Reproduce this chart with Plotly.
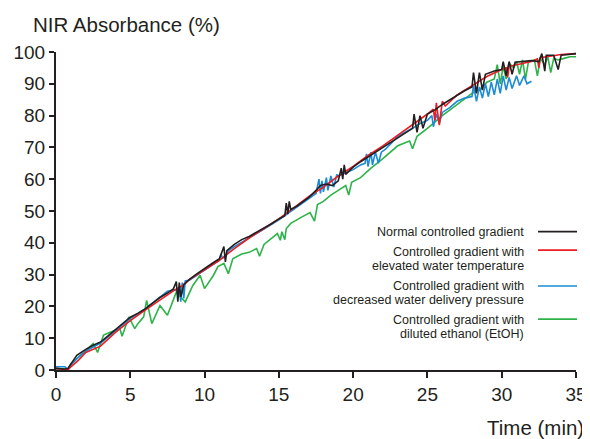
import plotly.graph_objects as go

# ---------------- data ----------------
normal_x = [0, 0.6, 0.8, 1.0, 1.4, 2.0, 2.5, 3.0, 3.5, 4.0, 4.5, 5.0, 5.5, 6.0, 6.5, 7.0, 7.5, 7.9,
            8.1, 8.2, 8.3, 8.4, 8.6, 9.0, 9.5, 10.0, 10.5, 11.0, 11.3, 11.4, 11.5, 12.0, 12.5, 13.0,
            13.5, 14.0, 14.5, 15.0, 15.4, 15.5, 15.6, 15.7, 15.8, 16.2, 16.5, 17.0, 17.5, 17.8, 18.2,
            18.6, 19.0, 19.2, 19.3, 19.4, 19.5, 20.0, 20.5, 21.0, 21.5, 22.0, 22.5, 23.0, 23.5, 24.0,
            24.1, 24.3, 24.5, 24.7, 25.0, 25.5, 26.0, 26.5, 27.0, 27.5, 28.0, 28.1, 28.3, 28.5, 28.7,
            28.9, 29.5, 30.0, 30.1, 30.3, 30.5, 30.7, 30.9, 31.5, 32.0, 32.5, 32.7, 32.9, 33.0, 33.5,
            33.8, 34.0, 34.5, 35.0]
normal_y = [0.5, 0.3, 0.5, 2.0, 4.6, 6.5, 7.8, 8.8, 10.8, 12.8, 14.6, 16.6, 17.8, 19.2, 21.0, 22.8, 24.2, 25.5,
            27.8, 21.5, 27.5, 23.0, 26.8, 28.6, 30.3, 32.0, 33.5, 35.0, 38.8, 34.0, 37.5, 39.5, 41.0, 42.0,
            43.3, 44.6, 46.0, 47.5, 48.5, 52.5, 49.0, 53.0, 50.5, 51.5, 52.5, 54.2, 56.5, 58.0, 58.5,
            58.0, 59.5, 63.5, 60.0, 64.5, 61.5, 63.8, 65.5, 67.0, 68.5, 70.0, 71.5, 73.0, 74.5, 76.0,
            80.5, 74.7, 80.0, 76.0, 80.5, 81.8, 83.5, 85.0, 86.5, 87.8, 89.0, 93.5, 87.0, 93.5, 88.0,
            93.0, 94.0, 94.5, 97.0, 92.5, 97.0, 93.0, 96.8, 97.0, 97.3, 97.0, 99.5, 94.0, 99.0, 99.0,
            94.5, 99.0, 99.3, 99.5]

temp_x = [0, 0.8, 1.0, 1.5, 2.0, 3.0, 4.0, 5.0, 6.0, 7.0, 8.0, 8.5, 9.0, 10.0, 11.0, 12.0, 13.0, 14.0,
          15.0, 16.0, 17.0, 18.0, 19.0, 20.0, 21.0, 22.0, 23.0, 24.0, 25.0, 25.4, 25.5, 25.6, 25.8,
          26.0, 26.2, 27.0, 28.0, 29.0, 30.0, 30.3, 30.4, 30.5, 31.0, 32.0, 32.4, 32.5, 32.6, 33.0,
          34.0, 35.0]
temp_y = [0.5, 0.0, 1.0, 3.0, 5.5, 7.5, 11.8, 15.5, 18.8, 22.0, 25.2, 26.5, 28.5, 31.5, 34.5, 38.2, 41.5, 44.5,
          47.5, 51.0, 54.5, 57.5, 61.0, 64.0, 67.5, 70.5, 73.8, 77.0, 80.5, 82.0, 78.5, 84.0, 77.0,
          84.5, 83.0, 86.5, 89.5, 92.3, 94.5, 95.0, 92.0, 95.5, 96.0, 97.0, 97.8, 95.0, 98.2, 98.5,
          99.2, 99.5]

pressure_x = [0, 0.6, 0.8, 1.0, 1.5, 2.0, 3.0, 4.0, 5.0, 6.0, 7.0, 7.5, 8.0, 8.3, 8.4, 8.5, 8.6, 8.7,
              9.0, 10.0, 11.0, 11.1, 11.2, 11.4, 11.6, 12.0, 13.0, 14.0, 15.0, 16.0, 17.0, 17.5, 17.7,
              17.8, 17.9, 18.0, 18.2, 18.3, 18.5, 18.7, 18.9, 19.0, 19.5, 20.0, 20.5, 20.8, 20.9, 21.0,
              21.2, 21.3, 21.5, 21.7, 21.9, 22.2, 22.6, 23.0, 23.5, 24.0, 24.5, 24.7, 25.0, 25.3, 25.4,
              25.6, 25.8, 26.0, 26.5, 27.0, 27.5, 28.0, 28.1, 28.3, 28.5, 28.7, 28.9, 29.1, 29.3, 29.5,
              29.7, 29.9, 30.1, 30.3, 30.5, 30.7, 31.0, 31.2, 31.5, 31.7, 32.0]
pressure_y = [1.0, 1.0, 0.3, 1.5, 4.0, 6.0, 8.5, 12.5, 16.2, 19.2, 23.0, 24.8, 25.2, 25.0, 21.5, 27.5, 22.5, 28.0,
              28.3, 31.5, 34.5, 36.5, 35.2, 35.5, 37.5, 38.8, 41.5, 44.3, 47.2, 50.5, 53.8, 55.5, 60.0,
              55.5, 59.5, 56.0, 60.5, 56.5, 61.0, 57.5, 61.5, 61.0, 62.0, 63.0, 64.5, 65.0, 68.0, 64.0,
              68.5, 64.5, 68.5, 65.0, 68.5, 69.5, 71.5, 73.5, 74.8, 76.0, 77.5, 78.0, 78.5, 80.0, 76.5,
              80.5, 77.5, 81.0, 82.5, 84.5, 85.5, 86.0, 89.5, 84.5, 89.0, 85.5, 90.0, 86.0, 90.5, 86.5,
              91.5, 87.0, 92.5, 88.0, 92.0, 88.5, 92.5, 89.5, 92.5, 90.0, 90.8]

ethanol_x = [0, 0.5, 0.8, 1.0, 1.5, 2.0, 2.5, 2.8, 3.2, 3.6, 4.0, 4.3, 4.45, 4.9, 5.3, 5.5, 5.9, 6.1,
             6.45, 7.0, 7.5, 8.1, 8.7, 9.2, 9.7, 10.0, 10.6, 10.9, 11.3, 11.6, 11.9, 12.5, 13.0, 13.5,
             13.7, 14.0, 14.9, 15.1, 15.2, 15.4, 15.5, 15.8, 16.5, 17.1, 17.4, 17.6, 18.0, 18.5, 19.0,
             19.5, 19.7, 19.9, 20.5, 21.2, 22.0, 22.5, 23.0, 23.8, 24.0, 24.3, 25.0, 26.0, 27.0, 28.0,
             28.6, 29.0, 29.5, 29.7, 29.9, 30.1, 30.3, 30.5, 30.8, 31.0, 31.2, 31.4, 31.6, 31.8, 32.2,
             32.4, 32.6, 32.9, 33.1, 33.3, 33.5, 33.8, 34.2, 34.6, 35.0]
ethanol_y = [0.3, 0.3, 0.0, 2.0, 4.0, 6.0, 8.3, 5.5, 11.0, 11.8, 12.5, 13.0, 10.6, 16.7, 13.0, 14.5, 16.7, 21.9,
             14.6, 20.3, 17.2, 24.5, 21.4, 26.5, 29.8, 25.6, 29.8, 32.5, 33.5, 30.3, 35.0, 36.5, 37.0, 38.2,
             35.8, 39.5, 42.9, 40.8, 43.5, 41.0, 44.5, 46.1, 48.0, 49.5, 46.8, 52.0, 53.0, 55.0, 56.5,
             58.0, 55.0, 59.0, 60.5, 63.5, 66.5, 68.5, 70.5, 72.0, 69.6, 73.5, 76.0, 80.0, 83.5, 87.0,
             88.5, 90.5, 91.5, 96.0, 90.0, 95.5, 91.5, 96.5, 95.0, 97.0, 93.0, 97.5, 91.5, 97.0, 97.5,
             92.5, 98.0, 96.0, 98.5, 93.5, 98.0, 97.5, 98.0, 98.5, 98.5]

series_names = [
    "Normal controlled gradient",
    "Controlled gradient with<br>elevated water temperature",
    "Controlled gradient with<br>decreased water delivery pressure",
    "Controlled gradient with<br>diluted ethanol (EtOH)",
]
series_colors = ["#231f20", "#ed1c24", "#1b8bd6", "#2db34a"]

x_ticks = [0, 5, 10, 15, 20, 25, 30, 35]
y_ticks = [0, 10, 20, 30, 40, 50, 60, 70, 80, 90, 100]

# ---------------- figure ----------------
FONT = "Liberation Sans, Arial, sans-serif"
INK = "#231f20"

fig = go.Figure()
all_series = [(ethanol_x, ethanol_y), (pressure_x, pressure_y), (temp_x, temp_y), (normal_x, normal_y)]
order = [3, 2, 1, 0]
for (xs, ys), idx in zip(all_series, order):
    fig.add_trace(go.Scatter(x=xs, y=ys, mode="lines", name=series_names[idx],
                             line=dict(color=series_colors[idx], width=1.6),
                             showlegend=False))

# the page body has an 8px margin, so the figure is made 8px smaller
fig.update_layout(
    width=582, height=431,
    margin=dict(l=48, r=14, t=44, b=69),
    paper_bgcolor="white", plot_bgcolor="white",
    font=dict(family=FONT, color=INK, size=19),
    xaxis=dict(range=[0, 35], tickvals=x_ticks, ticks="outside", ticklen=6, tickwidth=2,
               tickcolor=INK, showline=True, linecolor=INK, linewidth=2, showgrid=False,
               zeroline=False, automargin=False, tickfont=dict(size=19, color=INK)),
    yaxis=dict(range=[0, 100], tickvals=y_ticks, ticks="outside", ticklen=5, tickwidth=2,
               tickcolor=INK, showline=True, linecolor=INK, linewidth=2, showgrid=False,
               zeroline=False, automargin=False, tickfont=dict(size=19, color=INK)),
)

# axis titles
fig.add_annotation(text="NIR Absorbance (%)", xref="paper", yref="paper", x=-0.048, y=1.088,
                   xanchor="left", yanchor="middle", showarrow=False,
                   font=dict(size=20.5, color=INK, family=FONT))
fig.add_annotation(text="Time (min)", xref="paper", yref="paper", x=1.019, y=-0.182,
                   xanchor="right", yanchor="middle", showarrow=False,
                   font=dict(size=20.5, color=INK, family=FONT))

# custom legend: right-aligned text, line sample on the right
legend_rows = [
    (["Normal controlled gradient"], [0.435], 0.435),
    (["Controlled gradient with", "elevated water temperature"], [0.372, 0.328], 0.377),
    (["Controlled gradient with", "decreased water delivery pressure"], [0.265, 0.221], 0.264),
    (["Controlled gradient with", "diluted ethanol (EtOH)"], [0.158, 0.113], 0.160),
]
for i, (lines, ys, ly) in enumerate(legend_rows):
    for txt, yy in zip(lines, ys):
        fig.add_annotation(text=txt, xref="paper", yref="paper", x=0.904, y=yy,
                           xanchor="right", yanchor="middle", showarrow=False,
                           font=dict(size=12.5, color=INK, family=FONT))
    fig.add_shape(type="line", xref="paper", yref="paper", x0=0.927, x1=1.002, y0=ly, y1=ly,
                  line=dict(color=series_colors[i], width=1.6))

fig.write_html("out.html")
